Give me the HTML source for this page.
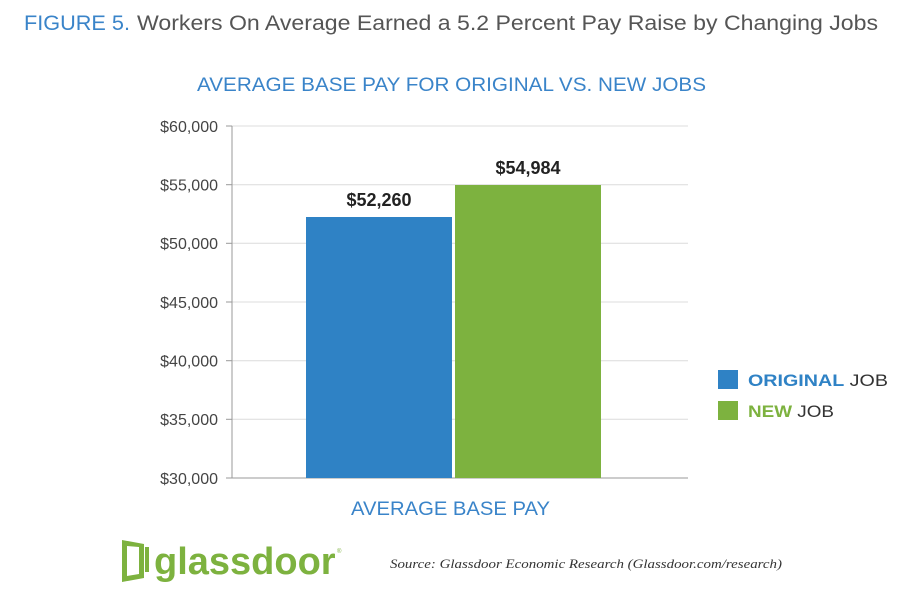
<!DOCTYPE html>
<html><head><style>
body{margin:0;width:917px;height:598px;background:#fff;font-family:"Liberation Sans",sans-serif;overflow:hidden}
</style></head><body>
<svg width="917" height="598" xmlns="http://www.w3.org/2000/svg" font-family="Liberation Sans, sans-serif">
<text x="24" y="30" font-size="21" fill="#3a84c9" textLength="106" lengthAdjust="spacingAndGlyphs">FIGURE 5.</text>
<text x="137" y="30" font-size="21" fill="#555" textLength="741" lengthAdjust="spacingAndGlyphs">Workers On Average Earned a 5.2 Percent Pay Raise by Changing Jobs</text>
<text x="197" y="91" font-size="19" fill="#3a84c9" textLength="509" lengthAdjust="spacingAndGlyphs">AVERAGE BASE PAY FOR ORIGINAL VS. NEW JOBS</text>
<g stroke="#dcdcdc" stroke-width="1">
<line x1="232" y1="126" x2="688" y2="126"/>
<line x1="232" y1="184.7" x2="688" y2="184.7"/>
<line x1="232" y1="243.3" x2="688" y2="243.3"/>
<line x1="232" y1="302" x2="688" y2="302"/>
<line x1="232" y1="360.7" x2="688" y2="360.7"/>
<line x1="232" y1="419.3" x2="688" y2="419.3"/>
</g>
<g stroke="#999" stroke-width="1">
<line x1="232" y1="126" x2="232" y2="478"/>
<line x1="226" y1="478" x2="688" y2="478"/>
<line x1="226" y1="126" x2="232" y2="126"/><line x1="226" y1="184.7" x2="232" y2="184.7"/><line x1="226" y1="243.3" x2="232" y2="243.3"/><line x1="226" y1="302" x2="232" y2="302"/><line x1="226" y1="360.7" x2="232" y2="360.7"/><line x1="226" y1="419.3" x2="232" y2="419.3"/>
</g>
<g font-size="16" fill="#444" text-anchor="end">
<text x="218" y="132">$60,000</text><text x="218" y="190.5">$55,000</text><text x="218" y="249">$50,000</text><text x="218" y="308">$45,000</text><text x="218" y="366.5">$40,000</text><text x="218" y="425">$35,000</text><text x="218" y="484">$30,000</text>
</g>
<rect x="306" y="217" width="146" height="261" fill="#2f82c5"/>
<rect x="455" y="185" width="146" height="293" fill="#7db23f"/>
<text x="379" y="206" font-size="18" font-weight="bold" fill="#222" text-anchor="middle">$52,260</text>
<text x="528" y="174" font-size="18" font-weight="bold" fill="#222" text-anchor="middle">$54,984</text>
<text x="351" y="515" font-size="19" fill="#3a84c9" textLength="199" lengthAdjust="spacingAndGlyphs">AVERAGE BASE PAY</text>
<rect x="718" y="370" width="20" height="19" fill="#2f82c5"/>
<rect x="718" y="401" width="20" height="19" fill="#7db23f"/>
<text x="748" y="386" font-size="17" fill="#333" textLength="140" lengthAdjust="spacingAndGlyphs"><tspan font-weight="bold" fill="#2f82c5">ORIGINAL</tspan> JOB</text>
<text x="748" y="417" font-size="17" fill="#333" textLength="86" lengthAdjust="spacingAndGlyphs"><tspan font-weight="bold" fill="#7db23f">NEW</tspan> JOB</text>
<path d="M122 540 L144 544 L144 578 L122 582 Z M127 546 L127 576 L139 574 L139 547 Z" fill="#7db23f" fill-rule="evenodd"/>
<rect x="145" y="547" width="4" height="25" fill="#7db23f"/>
<text x="154" y="574" font-size="38" font-weight="bold" fill="#7db23f">glassdoor</text>
<text x="337" y="553" font-size="6" fill="#7db23f">®</text>
<text x="390" y="568" font-size="13" font-style="italic" fill="#333" font-family="Liberation Serif, serif" textLength="392" lengthAdjust="spacingAndGlyphs">Source: Glassdoor Economic Research (Glassdoor.com/research)</text>
</svg>
</body></html>
